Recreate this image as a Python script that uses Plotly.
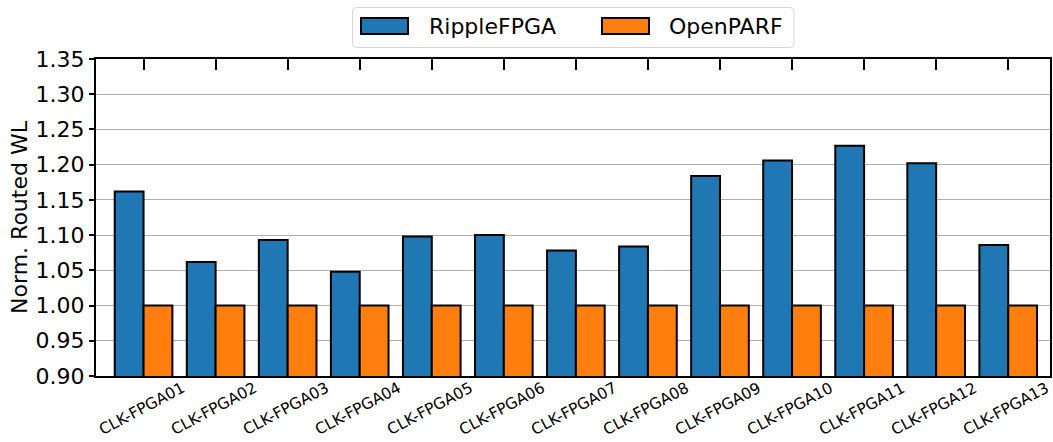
import plotly.graph_objects as go

# Benchmark names and normalized routed wirelength per placer
categories = [f"CLK-FPGA{i:02d}" for i in range(1, 14)]
ripple_fpga = [1.162, 1.062, 1.093, 1.048, 1.098, 1.100, 1.078,
               1.084, 1.184, 1.206, 1.227, 1.202, 1.086]
open_parf = [1.00] * 13
series_names = ["RippleFPGA", "OpenPARF"]
y_ticks = [0.90, 0.95, 1.00, 1.05, 1.10, 1.15, 1.20, 1.25, 1.30, 1.35]

BLUE = "#1f77b4"
ORANGE = "#ff7f0e"
FONT = "DejaVu Sans"

W, H = 1053, 442
ML, MR, MT, MB = 96, 3, 59, 66

fig = go.Figure()
for name, vals, col in [(series_names[0], ripple_fpga, BLUE),
                        (series_names[1], open_parf, ORANGE)]:
    fig.add_trace(go.Bar(
        x=categories, y=vals, name=name,
        marker=dict(color=col, line=dict(color="black", width=2)),
        showlegend=False,
    ))

fig.update_layout(
    width=W, height=H,
    margin=dict(l=ML, r=MR, t=MT, b=MB),
    paper_bgcolor="white", plot_bgcolor="white",
    barmode="group", bargap=0.2, bargroupgap=0.0,
    font=dict(family=FONT, color="black", size=22),
)

fig.update_xaxes(
    type="category", range=[-0.66, 12.58], automargin=False,
    showline=True, linecolor="black", linewidth=2, mirror="ticks",
    ticks="inside", ticklen=11, tickwidth=2, tickcolor="black",
    layer="below traces", showgrid=False, showticklabels=False,
)
fig.update_yaxes(
    range=[0.9, 1.35], tickvals=y_ticks, tickformat=".2f", automargin=False,
    showline=True, linecolor="black", linewidth=2, mirror=True,
    ticks="outside", ticklen=5, tickwidth=1.5, tickcolor="black",
    showgrid=True, gridcolor="#b0b0b0", gridwidth=1,
    zeroline=False, layer="below traces",
    tickfont=dict(size=22, family=FONT),
    title=dict(text="Norm. Routed WL", font=dict(size=22, family=FONT), standoff=2),
)

pw, ph = W - ML - MR, H - MT - MB
def px(x):
    return (x - ML) / pw
def py(y):
    return (H - MB - y) / ph

# Rotated category labels centred under each group
for cat in categories:
    fig.add_annotation(x=cat, xref="x", y=py(409), yref="paper",
                       text=cat, showarrow=False, textangle=-28, xshift=-2,
                       xanchor="center", yanchor="middle",
                       font=dict(size=15.5, family=FONT, color="black"))

# Legend drawn with wide swatches above the plot
x0, x1, y0, y1, r = 352.5, 794, 7.5, 47.5, 4
path = (f"M {px(x0 + r)},{py(y0)} L {px(x1 - r)},{py(y0)} "
        f"Q {px(x1)},{py(y0)} {px(x1)},{py(y0 + r)} "
        f"L {px(x1)},{py(y1 - r)} Q {px(x1)},{py(y1)} {px(x1 - r)},{py(y1)} "
        f"L {px(x0 + r)},{py(y1)} Q {px(x0)},{py(y1)} {px(x0)},{py(y1 - r)} "
        f"L {px(x0)},{py(y0 + r)} Q {px(x0)},{py(y0)} {px(x0 + r)},{py(y0)} Z")
fig.add_shape(type="path", path=path, xref="paper", yref="paper",
              line=dict(color="#d6d6d6", width=1), fillcolor="white", layer="above")

for name, col, sx, tx in [(series_names[0], BLUE, 361, 427),
                          (series_names[1], ORANGE, 602, 667)]:
    fig.add_shape(type="rect", xref="paper", yref="paper",
                  x0=px(sx), x1=px(sx + 47), y0=py(34), y1=py(18),
                  fillcolor=col, line=dict(color="black", width=2), layer="above")
    fig.add_annotation(x=px(tx), y=py(26.5), xref="paper", yref="paper",
                       text=name, showarrow=False, xanchor="left", yanchor="middle",
                       font=dict(size=22, family=FONT, color="black"))

fig.write_html("out.html")
